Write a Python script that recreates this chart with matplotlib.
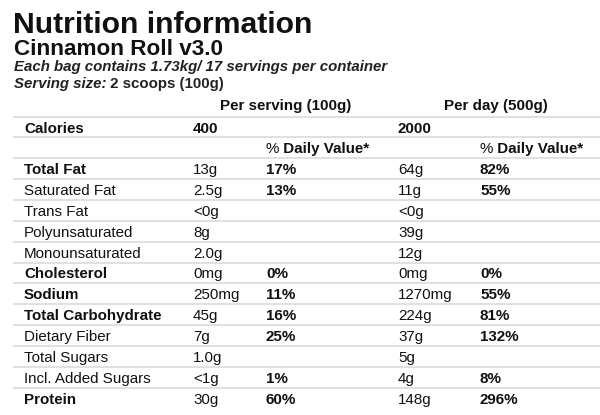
import matplotlib
matplotlib.use("Agg")
import matplotlib.pyplot as plt

title = "Nutrition information"
subtitle = "Cinnamon Roll v3.0"
note1 = "Each bag contains 1.73kg/ 17 servings per container"
note2_label = "Serving size:"
note2_value = " 2 scoops (100g)"
col_headers = ["Per serving (100g)", "Per day (500g)"]
dv_header = "% Daily Value*"

labels = ["Calories", "", "Total Fat", "Saturated Fat", "Trans Fat", "Polyunsaturated",
          "Monounsaturated", "Cholesterol", "Sodium", "Total Carbohydrate",
          "Dietary Fiber", "Total Sugars", "Incl. Added Sugars", "Protein"]
bold_rows = [True, True, True, False, False, False, False, True, True, True,
             False, False, False, True]
serving_amt = ["400", "", "13g", "2.5g", "<0g", "8g", "2.0g", "0mg", "250mg", "45g",
               "7g", "1.0g", "<1g", "30g"]
serving_dv = ["", dv_header, "17%", "13%", "", "", "", "0%", "11%", "16%",
              "25%", "", "1%", "60%"]
day_amt = ["2000", "", "64g", "11g", "<0g", "39g", "12g", "0mg", "1270mg", "224g",
           "37g", "5g", "4g", "148g"]
day_dv = ["", dv_header, "82%", "55%", "", "", "", "0%", "55%", "81%",
          "132%", "", "8%", "296%"]

W, H = 600, 415
fig = plt.figure(figsize=(W / 100, H / 100), dpi=100)
ax = fig.add_axes([0, 0, 1, 1])
ax.set_xlim(0, W)
ax.set_ylim(H, 0)
ax.axis("off")

FONT = "Liberation Sans"
TXT = "#111111"
LINE = "#dddddd"
inv = ax.transData.inverted()


def text_after(t, y, s, **kw):
    fig.canvas.draw()
    x_end = t.get_window_extent().x1
    xd = inv.transform((x_end, 0))[0]
    return ax.text(xd, y, s, **kw)


ax.text(13, 33, title, fontsize=21.7, fontweight="bold", family=FONT, color=TXT, va="baseline")
ax.text(14, 55, subtitle, fontsize=16.2, fontweight="bold", family=FONT, color=TXT, va="baseline")
ax.text(14, 71, note1, fontsize=10.85, fontweight="bold", fontstyle="italic", family=FONT,
        color="#222222", va="baseline")
t = ax.text(14, 88, note2_label, fontsize=10.85, fontweight="bold", fontstyle="italic",
            family=FONT, color="#222222", va="baseline")
text_after(t, 88, note2_value, fontsize=10.85, fontweight="bold", family=FONT,
           color="#222222", va="baseline")

fs = 10.9
header_y = 110
ax.text(220, header_y, col_headers[0], fontsize=fs, fontweight="bold", family=FONT, color=TXT, va="baseline")
ax.text(444, header_y, col_headers[1], fontsize=fs, fontweight="bold", family=FONT, color=TXT, va="baseline")


def dv_text(x, y, s):
    if s == dv_header:
        t0 = ax.text(x, y, s[0], fontsize=fs, fontweight="normal", family=FONT, color=TXT, va="baseline")
        text_after(t0, y, s[1:], fontsize=fs, fontweight="bold", family=FONT, color=TXT, va="baseline")
    else:
        ax.text(x, y, s, fontsize=fs, fontweight="bold", family=FONT, color=TXT, va="baseline")


row0 = 127
step = 20.85
xs = [24, 193, 266, 398, 480]
for i, lab in enumerate(labels):
    yc = row0 + step * i
    yb = yc + 5.5
    yl = yc - step / 2
    ax.plot([13, W], [yl, yl], color=LINE, lw=1.3, solid_capstyle="butt")
    ax.text(xs[0], yb, lab, fontsize=fs, fontweight="bold" if bold_rows[i] else "normal",
            family=FONT, color=TXT, va="baseline")
    amt_bold = (i == 0)
    ax.text(xs[1], yb, serving_amt[i], fontsize=fs, fontweight="bold" if amt_bold else "normal",
            family=FONT, color=TXT, va="baseline")
    ax.text(xs[3], yb, day_amt[i], fontsize=fs, fontweight="bold" if amt_bold else "normal",
            family=FONT, color=TXT, va="baseline")
    dv_text(xs[2], yb, serving_dv[i])
    dv_text(xs[4], yb, day_dv[i])

fig.savefig("out.png", dpi=100, facecolor="white")
